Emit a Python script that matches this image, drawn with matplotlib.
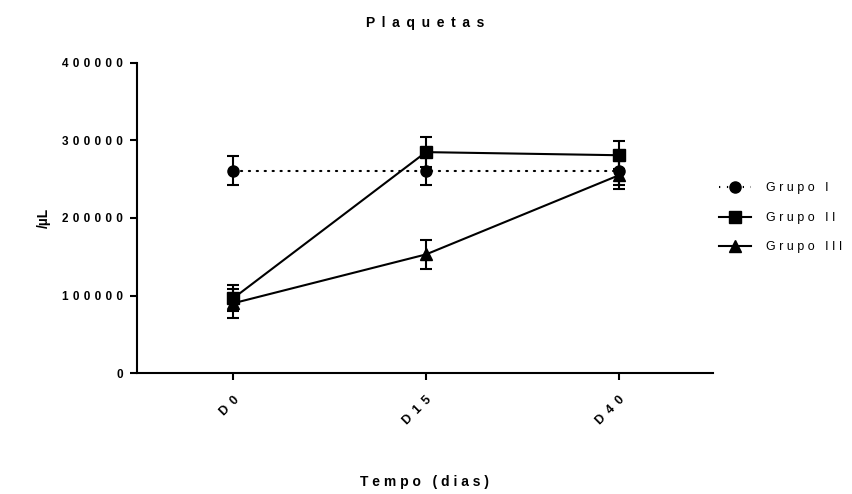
import matplotlib
matplotlib.use("Agg")
import matplotlib.pyplot as plt
from matplotlib.lines import Line2D
import numpy as np

# ---- data ----
categories = ["D0", "D15", "D40"]
groups = ["Grupo I", "Grupo II", "Grupo III"]
grupo1_mean = [261000, 261000, 261000]
grupo1_err = [18500, 18500, 18000]
grupo2_mean = [96500, 285000, 281000]
grupo2_err = [17000, 19000, 18000]
grupo3_mean = [90000, 153000, 255000]
grupo3_err = [19000, 19000, 18000]
yticks = [0, 100000, 200000, 300000, 400000]

def spaced(s, sp):
    return sp.join(list(s))

plt.rcParams['font.family'] = ['Liberation Sans', 'DejaVu Sans']

fig = plt.figure(figsize=(8.52, 4.94), dpi=100)
ax = fig.add_axes([137/852, 1-373/494, (713-137)/852, (373-63)/494])

x = np.arange(len(categories))
lw = 1.5
dot = (0, (0.6, 3.2))
common = dict(color='black', lw=lw, ms=8, capsize=4, capthick=lw, elinewidth=lw)
ax.errorbar(x, grupo1_mean, yerr=grupo1_err, marker='o', ls=dot,
            dash_capstyle='round', **common)
ax.errorbar(x, grupo2_mean, yerr=grupo2_err, marker='s', ls='-', **common)
ax.errorbar(x, grupo3_mean, yerr=grupo3_err, marker='^', ls='-', **common)

ax.set_xlim(-0.5, 2.49)
ax.set_ylim(0, 400000)
ax.set_xticks(x)
ax.set_xticklabels([spaced(c, " \u2009") for c in categories], rotation=45, ha='right',
                   rotation_mode='anchor', fontweight='bold', fontsize=9)
ax.set_yticks(yticks)
ax.set_yticklabels([spaced(str(v), " \u200a") for v in yticks], fontweight='bold', fontsize=8.5)

for s in ['top', 'right']:
    ax.spines[s].set_visible(False)
for s in ['left', 'bottom']:
    ax.spines[s].set_linewidth(lw)
ax.tick_params(width=lw, length=5)
ax.tick_params(axis='x', pad=10)
ax.tick_params(axis='y', pad=5)

ax.set_title(spaced("Plaquetas", " \u2009"), fontweight='bold', fontsize=10, pad=26)
ax.set_xlabel(spaced("Tempo (dias)", " "), fontweight='bold', fontsize=10, va='center')
ax.xaxis.set_label_coords(0.5, (373 - 482) / 310)
ax.set_ylabel("/µL", fontweight='bold', fontsize=10, labelpad=8)

handles = [
    Line2D([], [], color='black', marker='o', ms=8, lw=lw, ls=dot),
    Line2D([], [], color='black', marker='s', ms=8, lw=lw, ls='-'),
    Line2D([], [], color='black', marker='^', ms=8, lw=lw, ls='-'),
]
ax.legend(handles, [spaced(g, " ") for g in groups], loc='center left',
          bbox_to_anchor=(1.0, 0.5), frameon=False, fontsize=9,
          handlelength=2.5, handletextpad=1.2, labelspacing=1.4, borderaxespad=0.1)

fig.savefig("out.png", dpi=100)
